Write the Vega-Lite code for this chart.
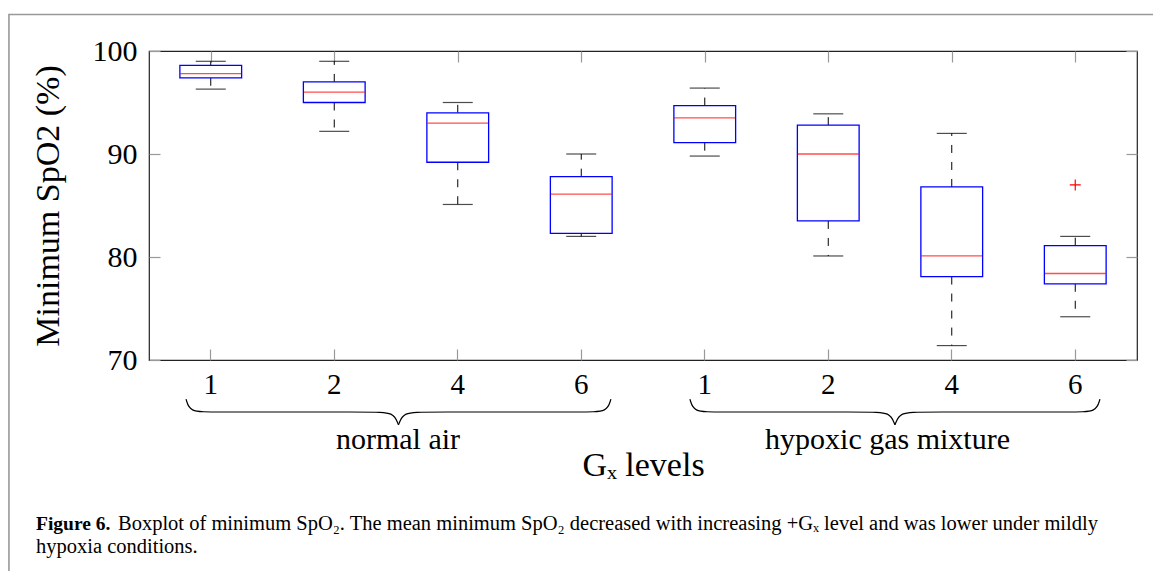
{
  "$schema": "https://vega.github.io/schema/vega-lite/v6.json",
  "width": 988,
  "height": 309,
  "autosize": {"type": "none"},
  "padding": {"left": 149, "top": 51, "right": 16, "bottom": 211},
  "background": "white",
  "config": {
    "view": {"stroke": "#222222", "strokeWidth": 1.2},
    "font": "Liberation Serif",
    "axis": {"grid": false, "labelColor": "#000000", "titleColor": "#000000", "labelFont": "Liberation Serif", "titleFont": "Liberation Serif", "titleFontWeight": "normal"}
  },
  "datasets": {
    "boxes": [
      {"key": "N1", "group": "normal air", "level": "1", "lower": 96.3, "q1": 97.4, "median": 97.8, "q3": 98.6, "upper": 99.0},
      {"key": "N2", "group": "normal air", "level": "2", "lower": 92.2, "q1": 95.0, "median": 96.0, "q3": 97.0, "upper": 99.0},
      {"key": "N4", "group": "normal air", "level": "4", "lower": 85.1, "q1": 89.2, "median": 93.0, "q3": 94.0, "upper": 95.0},
      {"key": "N6", "group": "normal air", "level": "6", "lower": 82.0, "q1": 82.3, "median": 86.1, "q3": 87.8, "upper": 90.0},
      {"key": "H1", "group": "hypoxic gas mixture", "level": "1", "lower": 89.8, "q1": 91.1, "median": 93.5, "q3": 94.7, "upper": 96.4},
      {"key": "H2", "group": "hypoxic gas mixture", "level": "2", "lower": 80.1, "q1": 83.5, "median": 90.0, "q3": 92.8, "upper": 93.9},
      {"key": "H4", "group": "hypoxic gas mixture", "level": "4", "lower": 71.4, "q1": 78.1, "median": 80.1, "q3": 86.8, "upper": 92.0},
      {"key": "H6", "group": "hypoxic gas mixture", "level": "6", "lower": 74.2, "q1": 77.4, "median": 78.4, "q3": 81.1, "upper": 82.0}
    ],
    "outliers": [
      {"key": "H6", "value": 87.0}
    ],
    "brace": [
      {"piece": "NL", "u": 0.30, "v": 66.2},
      {"piece": "NL", "u": 0.33, "v": 64.95},
      {"piece": "NL", "u": 0.50, "v": 64.95},
      {"piece": "NL", "u": 1.81, "v": 64.95},
      {"piece": "NL", "u": 1.98, "v": 64.95},
      {"piece": "NL", "u": 2.02, "v": 63.7},
      {"piece": "NR", "u": 2.02, "v": 63.7},
      {"piece": "NR", "u": 2.06, "v": 64.95},
      {"piece": "NR", "u": 2.23, "v": 64.95},
      {"piece": "NR", "u": 3.54, "v": 64.95},
      {"piece": "NR", "u": 3.71, "v": 64.95},
      {"piece": "NR", "u": 3.74, "v": 66.2},
      {"piece": "HL", "u": 4.38, "v": 66.2},
      {"piece": "HL", "u": 4.41, "v": 64.95},
      {"piece": "HL", "u": 4.58, "v": 64.95},
      {"piece": "HL", "u": 5.83, "v": 64.95},
      {"piece": "HL", "u": 6.00, "v": 64.95},
      {"piece": "HL", "u": 6.04, "v": 63.7},
      {"piece": "HR", "u": 6.04, "v": 63.7},
      {"piece": "HR", "u": 6.08, "v": 64.95},
      {"piece": "HR", "u": 6.25, "v": 64.95},
      {"piece": "HR", "u": 7.50, "v": 64.95},
      {"piece": "HR", "u": 7.67, "v": 64.95},
      {"piece": "HR", "u": 7.70, "v": 66.2}
    ],
    "one": [{}]
  },
  "layer": [
    {
      "data": {"name": "boxes"},
      "encoding": {
        "x": {
          "field": "key", "type": "nominal", "sort": null,
          "scale": {"paddingInner": 0, "paddingOuter": 0},
          "axis": {
            "orient": "bottom", "domain": false, "tickSize": -11, "tickColor": "#999999", "tickWidth": 1.2,
            "labelAngle": 0, "labelFontSize": 29, "labelPadding": 21,
            "labelExpr": "substring(datum.value, 1)",
            "title": "Gₓ levels", "titleFontSize": 34, "titlePadding": 49
          }
        }
      },
      "layer": [
        {
          "mark": {"type": "rule", "color": "#000000", "strokeWidth": 1, "strokeDash": [8, 9]},
          "encoding": {
            "y": {"field": "q1", "type": "quantitative", "scale": {"domain": [70, 100], "nice": false, "zero": false},
              "axis": {"orient": "left", "values": [70, 80, 90, 100], "domain": false, "tickSize": -11, "tickColor": "#999999", "tickWidth": 1.2,
                "labelFontSize": 30, "labelPadding": 23, "title": "Minimum SpO2 (%)", "titleFontSize": 34, "titlePadding": 27}},
            "y2": {"field": "lower"}
          }
        },
        {
          "mark": {"type": "rule", "color": "#000000", "strokeWidth": 1, "strokeDash": [8, 9]},
          "encoding": {
            "y": {"field": "q3", "type": "quantitative", "scale": {"domain": [70, 100], "nice": false, "zero": false}},
            "y2": {"field": "upper"}
          }
        },
        {
          "mark": {"type": "tick", "color": "#000000", "thickness": 1.2, "size": 30},
          "encoding": {
            "y": {"field": "lower", "type": "quantitative", "scale": {"domain": [70, 100], "nice": false, "zero": false}}
          }
        },
        {
          "mark": {"type": "tick", "color": "#000000", "thickness": 1.2, "size": 30},
          "encoding": {
            "y": {"field": "upper", "type": "quantitative", "scale": {"domain": [70, 100], "nice": false, "zero": false}}
          }
        },
        {
          "mark": {"type": "bar", "fill": "#ffffff", "stroke": "#0000ff", "strokeWidth": 1.3, "width": {"band": 0.5}},
          "encoding": {
            "y": {"field": "q1", "type": "quantitative", "scale": {"domain": [70, 100], "nice": false, "zero": false}},
            "y2": {"field": "q3"}
          }
        },
        {
          "mark": {"type": "tick", "color": "#ff0000", "thickness": 1.3, "size": 61},
          "encoding": {
            "y": {"field": "median", "type": "quantitative", "scale": {"domain": [70, 100], "nice": false, "zero": false}}
          }
        },
        {
          "data": {"name": "outliers"},
          "mark": {"type": "point", "shape": "M -1 0 L 1 0 M 0 -1 L 0 1", "filled": false, "color": "#ff0000", "strokeWidth": 1.2, "size": 120, "opacity": 1},
          "encoding": {
            "y": {"field": "value", "type": "quantitative", "scale": {"domain": [70, 100], "nice": false, "zero": false}}
          }
        }
      ]
    },
    {
      "data": {"name": "boxes"},
      "mark": {"type": "point", "opacity": 0},
      "encoding": {
        "x": {
          "field": "key", "type": "nominal", "sort": null,
          "scale": {"paddingInner": 0, "paddingOuter": 0},
          "axis": {"orient": "top", "labels": false, "domain": false, "tickSize": -11, "tickColor": "#999999", "tickWidth": 1.2, "title": null}
        },
        "y": {
          "field": "median", "type": "quantitative", "scale": {"domain": [70, 100], "nice": false, "zero": false},
          "axis": {"orient": "right", "labels": false, "values": [70, 80, 90, 100], "domain": false, "tickSize": -11, "tickColor": "#999999", "tickWidth": 1.2, "title": null}
        }
      }
    },
    {
      "layer": [
        {
          "data": {"name": "one"},
          "mark": {"type": "rect", "fill": null, "stroke": "#999999", "strokeWidth": 1.6},
          "encoding": {
            "x": {"datum": -1.134, "type": "quantitative", "scale": {"domain": [0, 8], "nice": false, "zero": false}, "axis": null},
            "x2": {"datum": 9.5},
            "y": {"datum": 103.55, "type": "quantitative", "scale": {"domain": [70, 100], "nice": false, "zero": false}, "axis": null},
            "y2": {"datum": 30}
          }
        },
        {
          "data": {"name": "brace"},
          "mark": {"type": "line", "interpolate": "basis", "color": "#000000", "strokeWidth": 1.2},
          "encoding": {
            "x": {"field": "u", "type": "quantitative", "scale": {"domain": [0, 8], "nice": false, "zero": false}, "axis": null},
            "y": {"field": "v", "type": "quantitative", "scale": {"domain": [70, 100], "nice": false, "zero": false}, "axis": null},
            "detail": {"field": "piece", "type": "nominal"}
          }
        },
        {
          "data": {"name": "one"},
          "mark": {"type": "text", "text": "normal air", "fontSize": 30, "align": "center", "baseline": "middle", "color": "#000000"},
          "encoding": {
            "x": {"datum": 2.016, "type": "quantitative", "scale": {"domain": [0, 8], "nice": false, "zero": false}, "axis": null},
            "y": {"datum": 62.23, "type": "quantitative", "scale": {"domain": [70, 100], "nice": false, "zero": false}, "axis": null}
          }
        },
        {
          "data": {"name": "one"},
          "mark": {"type": "text", "text": "hypoxic gas mixture", "fontSize": 30, "align": "center", "baseline": "middle", "color": "#000000"},
          "encoding": {
            "x": {"datum": 5.98, "type": "quantitative", "scale": {"domain": [0, 8], "nice": false, "zero": false}, "axis": null},
            "y": {"datum": 62.23, "type": "quantitative", "scale": {"domain": [70, 100], "nice": false, "zero": false}, "axis": null}
          }
        },
        {
          "data": {"name": "one"},
          "mark": {"type": "text", "text": "Figure 6.", "fontSize": 19.5, "fontWeight": "bold", "align": "left", "baseline": "alphabetic", "color": "#000000"},
          "encoding": {
            "x": {"datum": -0.915, "type": "quantitative", "scale": {"domain": [0, 8], "nice": false, "zero": false}, "axis": null},
            "y": {"datum": 53.5, "type": "quantitative", "scale": {"domain": [70, 100], "nice": false, "zero": false}, "axis": null}
          }
        },
        {
          "data": {"name": "one"},
          "mark": {"type": "text", "text": "Boxplot of minimum SpO₂. The mean minimum SpO₂ decreased with increasing +Gₓ level and was lower under mildly", "fontSize": 20.5, "align": "left", "baseline": "alphabetic", "color": "#000000"},
          "encoding": {
            "x": {"datum": -0.251, "type": "quantitative", "scale": {"domain": [0, 8], "nice": false, "zero": false}, "axis": null},
            "y": {"datum": 53.5, "type": "quantitative", "scale": {"domain": [70, 100], "nice": false, "zero": false}, "axis": null}
          }
        },
        {
          "data": {"name": "one"},
          "mark": {"type": "text", "text": "hypoxia conditions.", "fontSize": 20.5, "align": "left", "baseline": "alphabetic", "color": "#000000"},
          "encoding": {
            "x": {"datum": -0.915, "type": "quantitative", "scale": {"domain": [0, 8], "nice": false, "zero": false}, "axis": null},
            "y": {"datum": 51.26, "type": "quantitative", "scale": {"domain": [70, 100], "nice": false, "zero": false}, "axis": null}
          }
        }
      ]
    }
  ],
  "resolve": {
    "scale": {"x": "independent"},
    "axis": {"x": "independent", "y": "independent"}
  }
}
